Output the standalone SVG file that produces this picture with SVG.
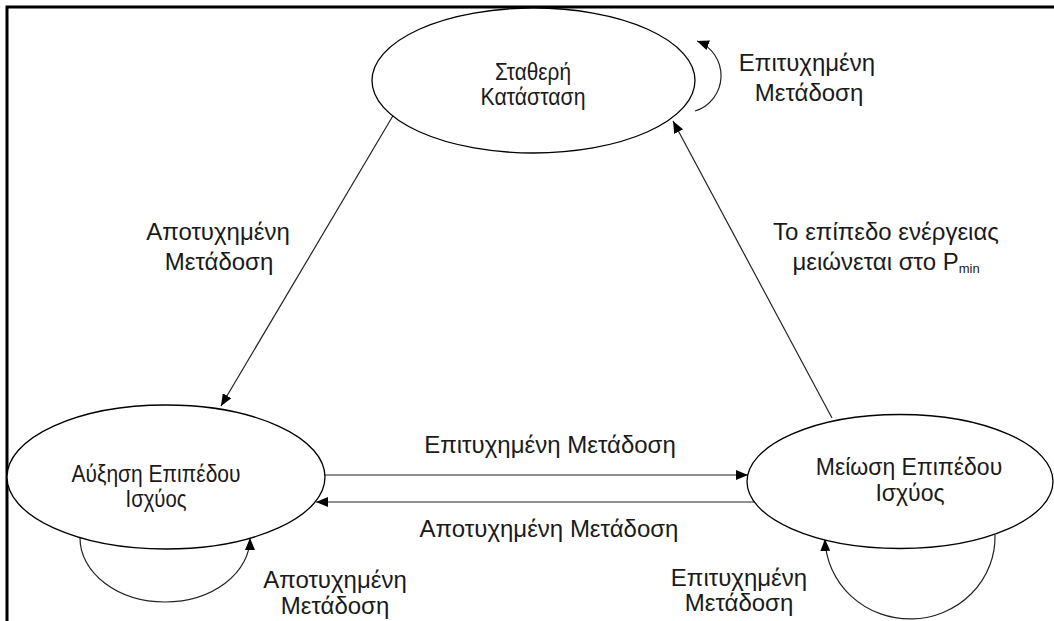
<svg xmlns="http://www.w3.org/2000/svg" width="1054" height="621" viewBox="0 0 1054 621">
  <style>
    .frame { stroke: #000; stroke-width: 3; fill: none; }
    .state { fill: #fff; stroke: #000; stroke-width: 1.3; }
    .edge { fill: none; stroke: #222; stroke-width: 1.2; marker-end: url(#arrow); }
    text { font-family: "Liberation Sans", Arial, sans-serif; font-size: 24px; fill: #1a1a1a; text-anchor: middle; }
    .node-text { font-size: 23px; }
    .sub { font-size: 13px; }
  </style>
  <defs>
    <marker id="arrow" viewBox="0 0 12 10" refX="12" refY="5" markerWidth="12" markerHeight="10" markerUnits="userSpaceOnUse" orient="auto">
      <path d="M0,0 L12,5 L0,10 Z" fill="#000"/>
    </marker>
  </defs>

  <rect width="1054" height="621" fill="#fff"/>

  <!-- page frame -->
  <path class="frame" d="M7,621 V7 H1054"/>

  <!-- transitions -->
  <g id="connectors">
    <path class="edge" d="M394,114 L221,406"/>
    <path class="edge" d="M832,418 L673,121"/>
    <path class="edge" d="M323,475 L748,475"/>
    <path class="edge" d="M757,502 L316,502"/>
    <path class="edge" d="M695,111 A37,37 0 0 0 697,41"/>
    <path class="edge" d="M80,538 A85,64 0 0 0 250,538"/>
    <path class="edge" d="M995,535 A85,82 0 0 1 825,539"/>

    <text x="807" y="71">Επιτυχημένη</text>
    <text x="809" y="101">Μετάδοση</text>

    <text x="218" y="240">Αποτυχημένη</text>
    <text x="219" y="270">Μετάδοση</text>

    <text x="886" y="240">Το επίπεδο ενέργειας</text>
    <text x="886" y="270">μειώνεται στο P<tspan class="sub" dy="3">min</tspan></text>

    <text x="550" y="453">Επιτυχημένη Μετάδοση</text>
    <text x="549" y="537">Αποτυχημένη Μετάδοση</text>

    <text x="335" y="588">Αποτυχημένη</text>
    <text x="335" y="614">Μετάδοση</text>

    <text x="739" y="586">Επιτυχημένη</text>
    <text x="739" y="611">Μετάδοση</text>
  </g>

  <!-- states -->
  <g id="state-stable">
    <ellipse class="state" cx="533.5" cy="80.5" rx="161.5" ry="72.5"/>
    <text class="node-text" x="533" y="80" textLength="76" lengthAdjust="spacingAndGlyphs">Σταθερή</text>
    <text class="node-text" x="533" y="105" textLength="105" lengthAdjust="spacingAndGlyphs">Κατάσταση</text>
  </g>

  <g id="state-increase">
    <ellipse class="state" cx="166" cy="477" rx="159" ry="72"/>
    <text class="node-text" x="156" y="482" textLength="169" lengthAdjust="spacingAndGlyphs">Αύξηση Επιπέδου</text>
    <text class="node-text" x="156" y="507" textLength="61" lengthAdjust="spacingAndGlyphs">Ισχύος</text>
  </g>

  <g id="state-decrease">
    <ellipse class="state" cx="900" cy="481.5" rx="153" ry="67"/>
    <text class="node-text" x="909" y="475">Μείωση Επιπέδου</text>
    <text class="node-text" x="910" y="501">Ισχύος</text>
  </g>
</svg>
